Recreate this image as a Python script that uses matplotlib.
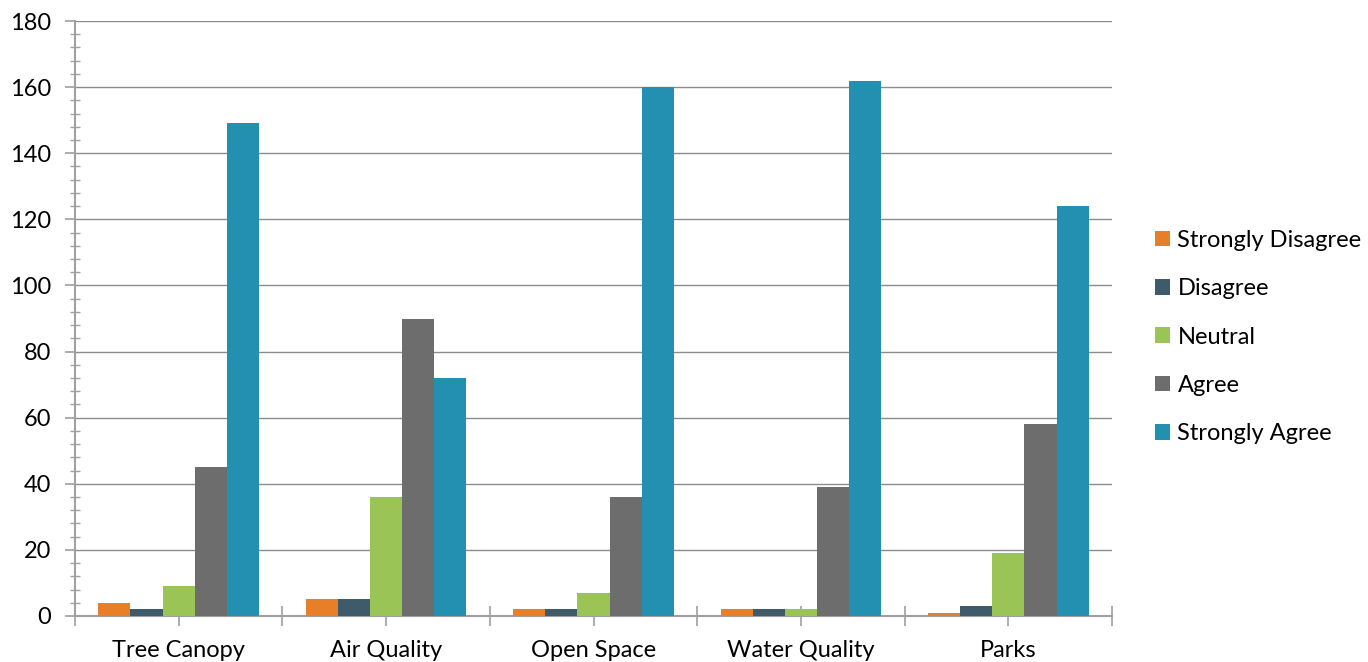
import matplotlib
matplotlib.use("Agg")
import matplotlib.pyplot as plt
import numpy as np
from matplotlib.ticker import MultipleLocator
from matplotlib.patches import Patch

categories = ["Tree Canopy", "Air Quality", "Open Space", "Water Quality", "Parks"]
series_names = ["Strongly Disagree", "Disagree", "Neutral", "Agree", "Strongly Agree"]
strongly_disagree = [4, 5, 2, 2, 1]
disagree = [2, 5, 2, 2, 3]
neutral = [9, 36, 7, 2, 19]
agree = [45, 90, 36, 39, 58]
strongly_agree = [149, 72, 160, 162, 124]
colors = ["#E67F27", "#3F5A6A", "#9BC456", "#6D6D6D", "#2490B1"]

plt.rcParams["font.family"] = ["Lato", "DejaVu Sans"]
FS = 17

fig = plt.figure(figsize=(13.68, 6.62), dpi=100)
ax = fig.add_axes([75 / 1368, 1 - 616 / 662, (1112 - 75) / 1368, (616 - 21) / 662])

series = [strongly_disagree, disagree, neutral, agree, strongly_agree]
x = np.arange(len(categories))
bar_w = 0.155
for i, (vals, c) in enumerate(zip(series, colors)):
    ax.bar(x + (i - 2) * bar_w, vals, width=bar_w, color=c, zorder=3, linewidth=0)

ax.set_xlim(-0.5, len(categories) - 0.5)
ax.set_ylim(0, 180)
ax.yaxis.set_major_locator(MultipleLocator(20))
ax.yaxis.set_minor_locator(MultipleLocator(4))
ax.grid(axis="y", which="major", color="#8C8C8C", linewidth=1.0, zorder=0)

grey = "#A0A0A0"
for side in ["top", "right"]:
    ax.spines[side].set_visible(False)
ax.spines["left"].set_color(grey)
ax.spines["bottom"].set_color(grey)
ax.spines["left"].set_linewidth(1.5)
ax.spines["bottom"].set_linewidth(1.5)

ax.tick_params(axis="y", which="major", direction="out", length=7, width=1.2,
               color=grey, labelsize=FS, pad=10, labelcolor="#000000")
ax.tick_params(axis="y", which="minor", direction="inout", length=7, width=1.0, color=grey)

# Ticks at every half category on the x axis, labels only at category centres
tick_pos = np.arange(-0.5, len(categories), 0.5)
ax.set_xticks(tick_pos)
labels = []
for t in tick_pos:
    labels.append(categories[int(round(t))] if abs(t - round(t)) < 1e-6 else "")
ax.set_xticklabels(labels)
ax.tick_params(axis="x", which="major", direction="inout", length=14, width=1.2,
               color=grey, labelsize=FS, pad=10)

handles = [Patch(facecolor=c, edgecolor="none") for c in colors]
fig.legend(handles, series_names, loc="center left",
           bbox_to_anchor=(1155 / 1368, 1 - 337 / 662), frameon=False,
           fontsize=FS, handlelength=0.65, handleheight=0.65,
           handletextpad=0.3, labelspacing=1.16, borderpad=0, borderaxespad=0)

fig.savefig("out.png", dpi=100)
